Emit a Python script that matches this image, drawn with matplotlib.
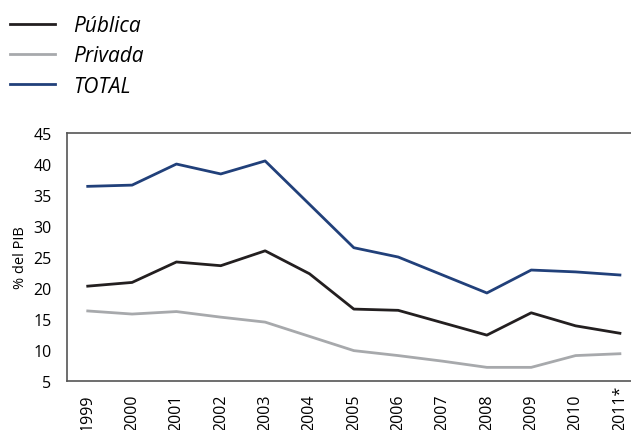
import matplotlib.pyplot as plt

years = ["1999", "2000", "2001", "2002", "2003", "2004", "2005",
         "2006", "2007", "2008", "2009", "2010", "2011*"]
publica = [20.3, 20.9, 24.2, 23.6, 26.0, 22.3, 16.6, 16.4, 14.4, 12.4, 16.0, 13.9, 12.7]
privada = [16.3, 15.8, 16.2, 15.3, 14.5, 12.2, 9.9, 9.1, 8.2, 7.2, 7.2, 9.1, 9.4]
total = [36.4, 36.6, 40.0, 38.4, 40.5, 33.5, 26.5, 25.0, 22.1, 19.2, 22.9, 22.6, 22.1]

plt.rcParams['font.family'] = ['Open Sans', 'DejaVu Sans']

fig = plt.figure(figsize=(6.31, 4.31), dpi=100)
ax = fig.add_axes([0.106, 0.1137, 0.894, 0.5753])

x = list(range(len(years)))
l1, = ax.plot(x, publica, color='#231f20', lw=2.0, label='Pública')
l2, = ax.plot(x, privada, color='#a7a9ac', lw=2.0, label='Privada')
l3, = ax.plot(x, total, color='#21407a', lw=2.0, label='TOTAL')

ax.set_xlim(-0.47, 12.25)
ax.set_ylim(5, 45)
ax.set_yticks(range(5, 50, 5))
ax.set_xticks(x)
ax.set_xticklabels(years, rotation=90, fontsize=11.5, va='bottom')
ax.tick_params(axis='y', labelsize=11.5, length=0, pad=11)
# labels sit on the bottom edge of the figure, like the reference
ax.tick_params(axis='x', length=0, pad=35)
ax.set_ylabel('% del PIB', fontsize=10.5, labelpad=4)

ax.spines['right'].set_visible(False)
for s in ['left', 'top', 'bottom']:
    ax.spines[s].set_color('#555555')
    ax.spines[s].set_linewidth(1.2)

leg = fig.legend(handles=[l1, l2, l3], loc='upper left',
                 bbox_to_anchor=(10 / 631, 1 - 16 / 431),
                 frameon=False, borderpad=0, borderaxespad=0,
                 handlelength=2.16, handletextpad=0.86,
                 labelspacing=0.45, prop={'style': 'italic', 'size': 15})

fig.savefig('out.png', dpi=100)
